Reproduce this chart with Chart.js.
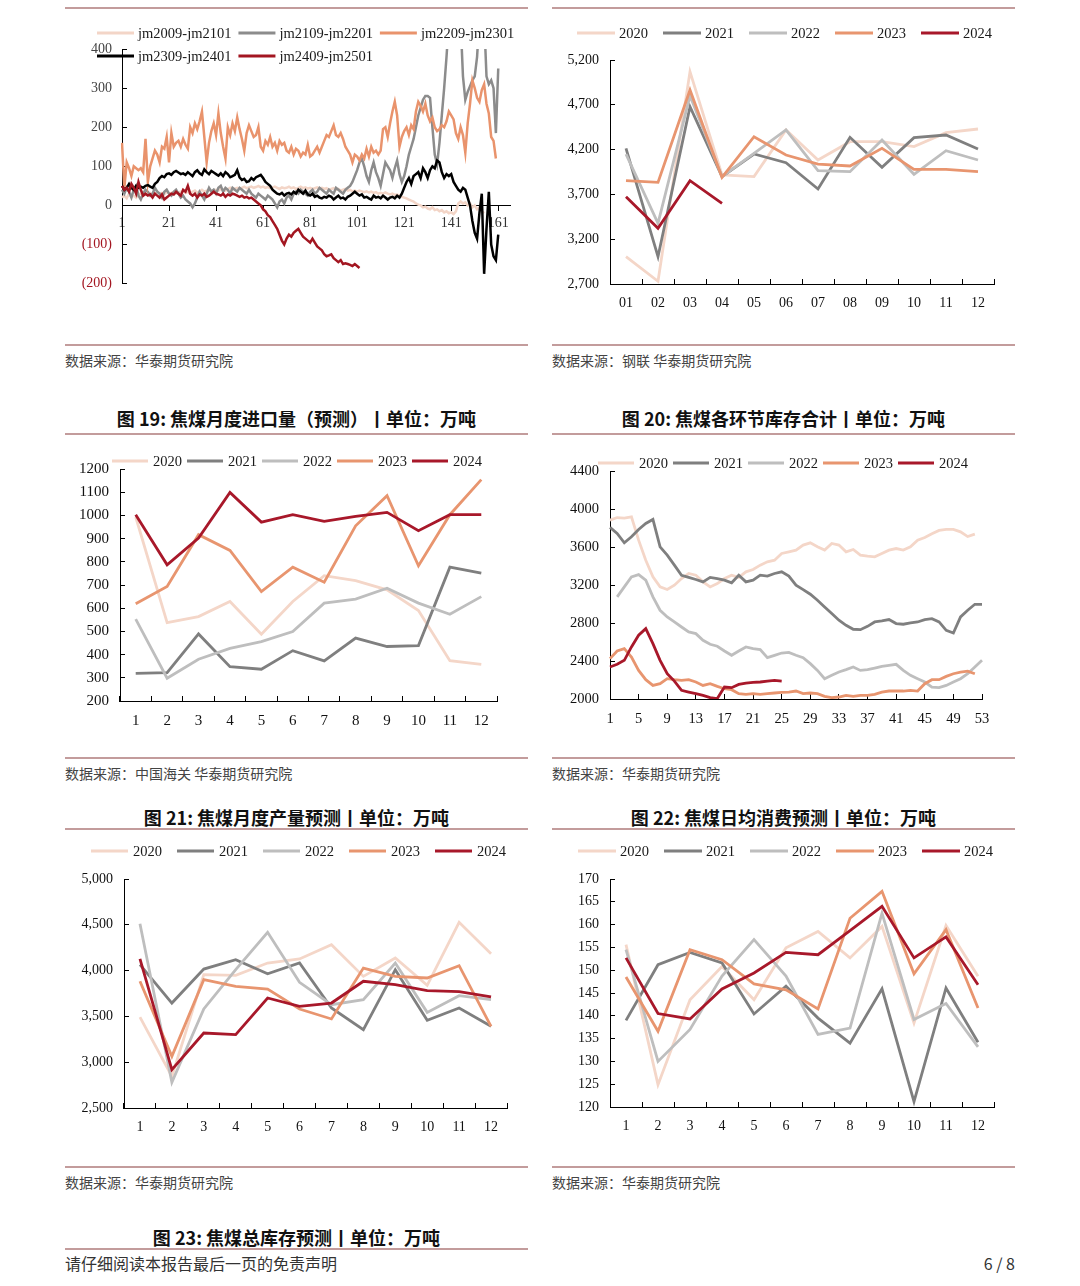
<!DOCTYPE html>
<html lang="zh">
<head>
<meta charset="utf-8">
<title>焦煤图表</title>
<script src="https://cdn.jsdelivr.net/npm/chart.js@4.4.1/dist/chart.umd.min.js"></script>
<style>
  html, body { margin: 0; padding: 0; background: #fff; }
  body { width: 1080px; height: 1286px; position: relative; overflow: hidden; font-family: "Noto Sans CJK SC", sans-serif; }
  canvas { position: absolute; }
  .rule { position: absolute; height: 2px; background: #c39c9c; }
  .src { position: absolute; font-size: 14px; line-height: 20px; color: #444; }
  .ttl { position: absolute; width: 463px; text-align: center; font-size: 18px; line-height: 24px; font-weight: 700; color: #111; }
  .foot { position: absolute; top: 1252px; font-size: 16px; line-height: 22px; color: #333; }
</style>
</head>
<body>

<div class="rule" style="left:65px;top:7px;width:463px"></div>
<div class="rule" style="left:552px;top:7px;width:463px"></div>

<canvas id="spread" width="465" height="295" style="left:65px;top:12px"></canvas>
<canvas id="top2" width="463" height="300" style="left:552px;top:12px"></canvas>

<div class="rule" style="left:65px;top:344px;width:463px"></div>
<div class="rule" style="left:552px;top:344px;width:463px"></div>
<div class="src" style="left:65px;top:350px">数据来源：华泰期货研究院</div>
<div class="src" style="left:552px;top:350px">数据来源：钢联 华泰期货研究院</div>
<div class="ttl" style="left:65px;top:406px">图 19: 焦煤月度进口量（预测）丨单位：万吨</div>
<div class="ttl" style="left:552px;top:406px">图 20: 焦煤各环节库存合计丨单位：万吨</div>
<div class="rule" style="left:65px;top:433px;width:463px"></div>
<div class="rule" style="left:552px;top:433px;width:463px"></div>

<canvas id="imports" width="465" height="300" style="left:65px;top:440px"></canvas>
<canvas id="stock" width="463" height="300" style="left:552px;top:440px"></canvas>

<div class="rule" style="left:65px;top:757px;width:463px"></div>
<div class="rule" style="left:552px;top:757px;width:463px"></div>
<div class="src" style="left:65px;top:763px">数据来源：中国海关 华泰期货研究院</div>
<div class="src" style="left:552px;top:763px">数据来源：华泰期货研究院</div>
<div class="ttl" style="left:65px;top:805px">图 21: 焦煤月度产量预测丨单位：万吨</div>
<div class="ttl" style="left:552px;top:805px">图 22: 焦煤日均消费预测丨单位：万吨</div>
<div class="rule" style="left:65px;top:828px;width:463px"></div>
<div class="rule" style="left:552px;top:828px;width:463px"></div>

<canvas id="output" width="465" height="305" style="left:65px;top:835px"></canvas>
<canvas id="usage" width="463" height="305" style="left:552px;top:835px"></canvas>

<div class="rule" style="left:65px;top:1166px;width:463px"></div>
<div class="rule" style="left:552px;top:1166px;width:463px"></div>
<div class="src" style="left:65px;top:1172px">数据来源：华泰期货研究院</div>
<div class="src" style="left:552px;top:1172px">数据来源：华泰期货研究院</div>
<div class="ttl" style="left:65px;top:1225px">图 23: 焦煤总库存预测丨单位：万吨</div>
<div class="rule" style="left:65px;top:1248px;width:463px"></div>
<div class="foot" style="left:65px">请仔细阅读本报告最后一页的免责声明</div>
<div class="foot" style="right:65px">6 / 8</div>

<script>
// ---- data: spread chart (jm09-jm01), trading day index ----
const spreadDays = Array.from({ length: 166 }, (_, i) => String(i + 1));
const spread2101 = [
  20, 25, 18, 30, 22, 25, 20, 28, 30, 25, 28, 30, 32, 28, 30, 35, 30, 32, 28, 35,
  30, 32, 35, 30, 33, 35, 38, 32, 35, 30, 35, 38, 32, 36, 40, 35, 38, 40, 36, 38,
  40, 38, 42, 40, 38, 42, 45, 40, 43, 45, 42, 45, 48, 44, 46, 48, 45, 47, 50, 46,
  48, 45, 47, 44, 46, 48, 45, 42, 46, 44, 45, 48, 44, 46, 42, 45, 48, 44, 46, 43,
  45, 42, 44, 46, 43, 45, 42, 44, 40, 42, 44, 40, 42, 38, 40, 42, 38, 40, 36, 38,
  35, 38, 36, 34, 36, 33, 35, 32, 34, 30, 32, 30, 33, 30, 28, 30, 27, 28, 25, 22,
  20, 18, 15, 12, 10, 5, 2, 0, -5, -3, -8, -10, -5, -12, -10, -15, -12, -18, -15, -20,
  -18, -22, -15, 5, 10, 5, 8, 0, 5, -5, 0, -10, -5, -15, -20
];
const spread2201 = [
  40, 30, 45, 35, 20, 40, 50, 25, 15, 30, 40, 35, 25, 30, 45, 35, 30, 20, 35, 40,
  30, 25, 35, 40, 30, 20, 25, 15, 10, 5, -5, 5, 20, 35, 25, 15, 30, 45, 35, 40,
  30, 45, 50, 35, 45, 40, 30, 45, 40, 35, 45, 40, 35, 30, 40, 30, 25, 20, 30, 25,
  20, 15, 25, 20, 15, 5, -5, 10, 15, 5, 20, 25, 15, 30, 35, 30, 40, 35, 30, 25,
  35, 40, 30, 35, 45, 40, 35, 30, 40, 35, 30, 45, 40, 35, 30, 40, 45, 50, 60, 75,
  90, 110, 120, 100, 75, 60, 90, 110, 85, 70, 50, 80, 110, 100, 90, 70, 95, 115, 80, 60,
  75, 100, 130, 150, 170, 200, 230, 250, 270, 280, 280, 275, 200, 130, 105, 160, 230, 300, 380, 470,
  480, 480, 440, 480, 470, 330, 270, 290, 305, 320, 330, 380, 480, 480, 480, 330, 310, 320, 300, 185,
  350
];
const spread2301 = [
  160, 45, 110, 95, 75, 100, 95, 90, 95, 85, 170, 60, 100, 120, 140, 130, 110, 150, 145, 175,
  110, 185, 150, 160, 165, 150, 170, 155, 145, 200, 185, 210, 195, 215, 240, 175, 110, 160, 190, 210,
  180, 235, 185, 150, 120, 200, 180, 210, 190, 225, 195, 170, 140, 185, 205, 190, 175, 180, 200, 150,
  140, 165, 155, 175, 150, 160, 140, 165, 155, 160, 140, 135, 150, 130, 145, 140, 125, 135, 130, 155,
  125, 130, 140, 150, 135, 150, 165, 180, 175, 190, 205, 180, 175, 185, 170, 150, 140, 130, 110, 130,
  125, 115, 130, 120, 145, 125, 150, 135, 140, 130, 140, 195, 200, 175, 210, 240, 265, 230, 150, 175,
  190, 200, 180, 205, 195, 240, 265, 255, 240, 260, 230, 215, 225, 200, 190, 195, 205, 200, 215, 240,
  230, 220, 185, 170, 200, 180, 135, 210, 260, 320, 300, 275, 265, 295, 310, 260, 235, 175, 165, 120
];
const spread2401 = [
  50, 40, 45, 55, 45, 40, 50, 45, 48, 45, 50, 52, 48, 45, 55, 60, 70, 75, 72, 80,
  82, 78, 85, 88, 84, 80, 82, 78, 85, 80, 75, 85, 90, 82, 78, 92, 85, 80, 88, 84,
  80, 76, 82, 75, 85, 80, 72, 75, 78, 90, 72, 65, 68, 60, 62, 70, 65, 72, 75, 78,
  70, 60, 55, 50, 40, 35, 30, 28, 32, 25, 30, 32, 28, 35, 30, 40, 35, 30, 38, 28,
  25, 30, 22, 25, 20, 18, 22, 20, 25, 22, 15, 20, 25, 18, 20, 15, 22, 25, 30, 35,
  30, 25, 28, 20, 22, 18, 15, 25, 20, 22, 18, 25, 20, 15, 20, 22, 18, 25, 20, 30,
  45, 60, 70, 55, 75, 80, 85, 70, 95, 85, 70, 90, 100, 95, 115, 110, 85, 70, 80, 75,
  80, 60, 50, 40, 35, 45, 40, 20, 0, -40, -70, -85, -20, 30, -175, -60, 35, -100, -130, -140,
  -75
];
const spread2501 = [
  50, 40, 45, 35, 55, 45, 30, 60, 40, 25, 30, 25, 28, 20, 30, 25, 20, 28, 15, 20,
  25, 30, 28, 35, 30, 25, 40, 35, 50, 30, 25, 30, 20, 28, 25, 30, 22, 25, 30, 35,
  30, 28, 25, 30, 22, 28, 25, 30, 28, 25, 22, 25, 20, 22, 18, 20, 15, 10, 5, 0,
  -10, -15, -25, -30, -40, -50, -60, -75, -90, -100, -85, -75, -80, -70, -65, -60, -70, -80, -85, -90,
  -95, -85, -95, -105, -110, -115, -125, -130, -128, -125, -135, -140, -145, -140, -150, -148, -150, -152, -155, -150,
  -155, -160
];

// ---- data: top-right monthly chart ----
const monthsPad = ['01', '02', '03', '04', '05', '06', '07', '08', '09', '10', '11', '12'];
const top2020 = [3005, 2730, 5070, 3917, 3898, 4419, 4084, 4288, 4290, 4233, 4389, 4430];
const top2021 = [4214, 3005, 4679, 3898, 4151, 4054, 3760, 4337, 4002, 4333, 4363, 4207];
const top2022 = [4150, 3377, 4800, 3900, 4158, 4419, 3965, 3954, 4307, 3924, 4188, 4084];
const top2023 = [3853, 3834, 4865, 3890, 4344, 4140, 4039, 4017, 4214, 3980, 3980, 3954];
const top2024 = [3675, 3321, 3853, 3600];

// ---- data: 图19 月度进口量 ----
const months = ['1', '2', '3', '4', '5', '6', '7', '8', '9', '10', '11', '12'];
const import2020 = [993, 538, 564, 629, 488, 629, 740, 719, 679, 590, 374, 358];
const import2021 = [319, 322, 489, 348, 337, 417, 373, 471, 435, 439, 777, 751];
const import2022 = [553, 298, 380, 427, 456, 499, 622, 639, 686, 622, 574, 650];
const import2023 = [619, 694, 917, 849, 672, 777, 712, 955, 1085, 783, 1003, 1154];
const import2024 = [1003, 787, 902, 1099, 971, 1003, 974, 996, 1013, 934, 1003, 1003];

// ---- data: 图20 各环节库存合计 (weekly) ----
const weeks = Array.from({ length: 53 }, (_, i) => String(i + 1));
const stock2020 = [
  3883, 3910, 3905, 3918, 3672, 3461, 3286, 3180, 3152, 3198, 3268, 3321, 3303, 3233, 3180, 3215, 3268, 3303,
  3280, 3339, 3363, 3409, 3444, 3461, 3532, 3549, 3567, 3620, 3644, 3602, 3567, 3637, 3620, 3549, 3574, 3514,
  3504, 3497, 3532, 3567, 3584, 3567, 3602, 3672, 3700, 3740, 3775, 3785, 3785, 3760, 3710, 3735
];
const stock2021 = [
  3806, 3743, 3644, 3707, 3785, 3848, 3890, 3602, 3514, 3409, 3303, 3280, 3258, 3233, 3280, 3268, 3251, 3223,
  3303, 3233, 3251, 3303, 3293, 3321, 3339, 3293, 3198, 3152, 3103, 3040, 2969, 2899, 2829, 2776, 2734, 2730,
  2765, 2811, 2822, 2836, 2794, 2787, 2801, 2811, 2836, 2846, 2811, 2723, 2695, 2864, 2934, 2997, 2997
];
const stock2022 = [
  null, 3075, 3180, 3286, 3310, 3251, 3075, 2934, 2864, 2811, 2758, 2706, 2688, 2618, 2576, 2555, 2505, 2460,
  2505, 2548, 2530, 2520, 2435, 2460, 2484, 2491, 2460, 2435, 2372, 2301, 2214, 2249, 2284, 2309, 2337, 2301,
  2309, 2326, 2344, 2354, 2365, 2301, 2249, 2214, 2179, 2126, 2119, 2143, 2179, 2214, 2266, 2337, 2407
];
const stock2023 = [
  2425, 2505, 2530, 2442, 2301, 2203, 2143, 2161, 2214, 2203, 2196, 2203, 2179, 2143, 2161, 2133, 2108, 2098,
  2056, 2049, 2056, 2049, 2056, 2063, 2070, 2073, 2084, 2056, 2063, 2056, 2028, 2014, 2021, 2038, 2028, 2038,
  2038, 2049, 2073, 2084, 2084, 2084, 2091, 2084, 2161, 2203, 2203, 2238, 2266, 2284, 2294, 2266
];
const stock2024 = [
  2337, 2365, 2407, 2548, 2671, 2741, 2583, 2407, 2266, 2189, 2091, 2073, 2056, 2038, 2014, 2005, 2126, 2119,
  2154, 2168, 2175, 2179, 2189, 2196, 2189
];

// ---- data: 图21 月度产量 ----
const output2020 = [3493, 2846, 3956, 3948, 4083, 4127, 4283, 3937, 4138, 3839, 4527, 4185];
const output2021 = [4065, 3646, 4017, 4119, 3966, 4083, 3592, 3355, 4010, 3457, 3592, 3392];
const output2022 = [4512, 2780, 3581, 4010, 4418, 3872, 3628, 3683, 4083, 3544, 3726, 3683];
const output2023 = [3883, 3064, 3901, 3828, 3799, 3581, 3472, 4028, 3937, 3919, 4054, 3392];
const output2024 = [4127, 2919, 3319, 3301, 3701, 3610, 3646, 3883, 3846, 3781, 3770, 3712];

// ---- data: 图22 日均消费 ----
const use2020 = [155.6, 124.9, 143.5, 150.8, 143.5, 154.9, 158.5, 152.7, 159.6, 138.4, 159.8, 148.7];
const use2021 = [139.0, 151.2, 153.9, 151.6, 140.4, 146.5, 139.5, 134.0, 145.9, 121.2, 146.1, 134.2];
const use2022 = [154.5, 130.0, 137.0, 148.7, 156.7, 148.7, 135.9, 137.3, 162.5, 139.2, 142.7, 133.2];
const use2023 = [148.5, 136.6, 154.5, 152.3, 147.0, 145.7, 141.5, 161.4, 167.3, 149.2, 158.9, 141.7];
const use2024 = [152.7, 140.5, 139.3, 145.9, 149.4, 153.9, 153.4, 158.7, 164.0, 152.7, 157.3, 146.8];

const yearNames = ['2020', '2021', '2022', '2023', '2024'];
const yearColors = ['#f4d6c8', '#7f7f7f', '#bebebe', '#e8956f', '#a8182a'];
const spreadNames = ['jm2009-jm2101', 'jm2109-jm2201', 'jm2209-jm2301', 'jm2309-jm2401', 'jm2409-jm2501'];
const spreadColors = ['#f3d5c7', '#8c8c8c', '#e9936c', '#000000', '#a31621'];

const SERIF = '"Liberation Serif", "Times New Roman", serif';
Chart.defaults.font.family = SERIF;
Chart.defaults.color = '#222';

// legend drawn by hand: line sample + label, rows at fixed spots
const lineLegend = {
  id: 'lineLegend',
  afterDraw(chart, args, o) {
    if (!o.rows) return;
    const ctx = chart.ctx;
    const sets = chart.data.datasets;
    ctx.save();
    ctx.font = `${o.size}px ${SERIF}`;
    ctx.textBaseline = 'middle';
    o.rows.forEach((row, r) => {
      let x = o.left;
      const y = o.top[r];
      row.forEach(i => {
        const ds = sets[i];
        ctx.strokeStyle = ds.borderColor;
        ctx.lineWidth = 3;
        ctx.beginPath();
        ctx.moveTo(x, y);
        ctx.lineTo(x + o.box, y);
        ctx.stroke();
        ctx.fillStyle = '#1a1a1a';
        ctx.fillText(ds.label, x + o.box + o.gap, y + 1);
        x += o.box + o.gap + ctx.measureText(ds.label).width + o.space;
      });
    });
    ctx.restore();
  }
};
Chart.register(lineLegend);

function line(label, data, color, order, width) {
  return {
    label, data, order,
    borderColor: color,
    backgroundColor: color,
    borderWidth: width || 2.8,
    pointRadius: 0,
    tension: 0,
    spanGaps: false
  };
}

function allLabels(v) { return this.getLabelForValue(v); }

function yearChart(id, labels, series, o) {
  return new Chart(document.getElementById(id), {
    type: 'line',
    data: {
      labels,
      datasets: series.map((d, i) => line(yearNames[i], d, yearColors[i], 5 - i))
    },
    options: {
      responsive: false,
      animation: false,
      events: [],
      layout: { padding: { top: o.top, right: o.right, bottom: 0, left: 0 } },
      plugins: {
        legend: { display: false },
        tooltip: { enabled: false },
        lineLegend: o.legend
      },
      scales: {
        x: {
          offset: o.offset,
          grid: { offset: o.offset, drawOnChartArea: false, tickLength: -5, color: '#000' },
          border: { color: '#000' },
          ticks: {
            autoSkip: false, maxRotation: 0, padding: 16, color: '#111',
            font: { size: o.font },
            callback: o.xcb || allLabels
          },
          afterFit: s => { s.height = o.xh; }
        },
        y: {
          min: o.min, max: o.max,
          grid: { drawOnChartArea: false, tickLength: -5, color: '#000' },
          border: { color: '#000' },
          ticks: {
            stepSize: o.step, padding: 16, color: '#111',
            font: { size: o.font },
            callback: o.fmt || (v => v)
          },
          afterFit: s => { s.width = o.yw; }
        }
      }
    }
  });
}

const comma = v => v.toLocaleString('en-US');

// spread chart, x axis sits on the zero line
new Chart(document.getElementById('spread'), {
  type: 'line',
  data: {
    labels: spreadDays,
    datasets: [spread2101, spread2201, spread2301, spread2401, spread2501]
      .map((d, i) => line(spreadNames[i], d, spreadColors[i], 5 - i, 2.5))
  },
  options: {
    responsive: false,
    animation: false,
    events: [],
    layout: { padding: { top: 37, right: 20, bottom: 18, left: 0 } },
    plugins: {
      legend: { display: false },
      tooltip: { enabled: false },
      lineLegend: { rows: [[0, 1, 2], [3, 4]], top: [21, 44], left: 32, box: 37, gap: 4, space: 7, size: 14.5 }
    },
    scales: {
      x: {
        position: { y: 0 },
        grid: { drawOnChartArea: false, tickLength: 5, color: '#000' },
        border: { color: '#000' },
        ticks: {
          autoSkip: false, maxRotation: 0, padding: 5, color: '#333',
          font: { size: 14 },
          callback(v, i) { return i % 20 === 0 ? this.getLabelForValue(v) : null; }
        }
      },
      y: {
        min: -200, max: 400,
        grid: { drawOnChartArea: false, tickLength: -5, color: '#000' },
        border: { color: '#000' },
        ticks: {
          stepSize: 100, padding: 15,
          font: { size: 14 },
          color: c => c.tick.value < 0 ? '#a31621' : '#444',
          callback: v => v < 0 ? `(${-v})` : v
        },
        afterFit: s => { s.width = 57; }
      }
    }
  }
});

yearChart('top2', monthsPad, [top2020, top2021, top2022, top2023, top2024], {
  offset: true, min: 2700, max: 5200, step: 500, fmt: comma, font: 14,
  yw: 58, xh: 28, top: 48, right: 21,
  legend: { rows: [[0, 1, 2, 3, 4]], top: [21], left: 25, box: 38, gap: 4, space: 15, size: 14.5 }
});

yearChart('imports', months, [import2020, import2021, import2022, import2023, import2024], {
  offset: true, min: 200, max: 1200, step: 100, font: 15,
  yw: 55, xh: 39, top: 29, right: 33,
  legend: { rows: [[0, 1, 2, 3, 4]], top: [21], left: 47, box: 36, gap: 5, space: 5, size: 14.5 }
});

yearChart('stock', weeks, [stock2020, stock2021, stock2022, stock2023, stock2024], {
  offset: false, min: 2000, max: 4400, step: 400, font: 14.5,
  yw: 58, xh: 41, top: 31, right: 33,
  xcb(v, i) { return i % 4 === 0 ? this.getLabelForValue(v) : null; },
  legend: { rows: [[0, 1, 2, 3, 4]], top: [23], left: 46, box: 36, gap: 5, space: 5, size: 14.5 }
});

yearChart('output', months, [output2020, output2021, output2022, output2023, output2024], {
  offset: true, min: 2500, max: 5000, step: 500, fmt: comma, font: 14,
  yw: 59, xh: 32, top: 44, right: 23,
  legend: { rows: [[0, 1, 2, 3, 4]], top: [16], left: 26, box: 37, gap: 5, space: 15, size: 14.5 }
});

yearChart('usage', months, [use2020, use2021, use2022, use2023, use2024], {
  offset: true, min: 120, max: 170, step: 5, font: 14,
  yw: 58, xh: 33, top: 44, right: 21,
  legend: { rows: [[0, 1, 2, 3, 4]], top: [16], left: 26, box: 38, gap: 4, space: 15, size: 14.5 }
});
</script>
</body>
</html>
